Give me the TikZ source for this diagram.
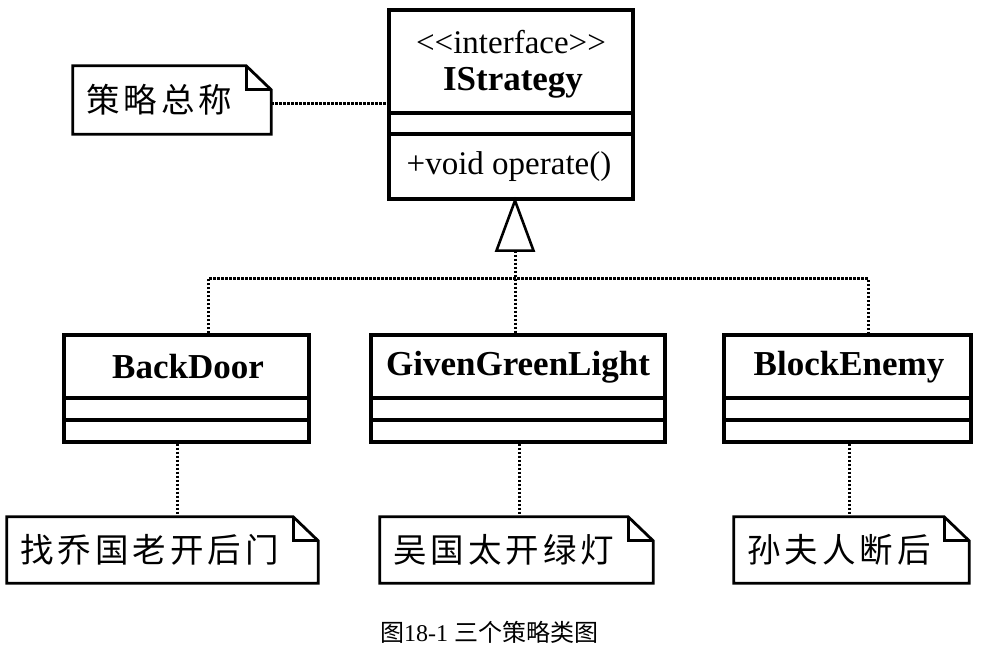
\documentclass[tikz,border=0pt]{standalone}
\usepackage{fontspec}
\setmainfont{Liberation Serif}
\newfontfamily\cjk[LetterSpace=12]{Noto Sans CJK SC}
\newfontfamily\cjkcap{Noto Sans CJK SC}
\usetikzlibrary{calc}
\tikzset{
  cbox/.style={draw, line width=3.2pt, inner sep=0pt, fill=white},
  cname/.style={font=\fontsize{35}{38}\selectfont\bfseries, inner sep=0pt},
  ctext/.style={font=\fontsize{33}{36}\selectfont, inner sep=0pt},
  divline/.style={line width=3.2pt},
  dotline/.style={line width=3pt, dash pattern=on 2.4pt off 1.6pt},
  note/.style={inner xsep=13pt, inner ysep=0pt, align=left, font=\cjk\fontsize{33.5}{36}\selectfont},
  noteline/.style={line width=2.8pt, line join=miter},
  gentri/.style={line width=2.6pt, fill=white},
  captext/.style={font=\fontsize{24}{28}\selectfont, inner sep=0pt}
}
\newcommand\dogear[1]{%
  \draw[noteline] (#1.north west) -- ([xshift=-25pt]#1.north east) -- ([yshift=-24pt]#1.north east) -- (#1.south east) -- (#1.south west) -- cycle;
  \draw[noteline] ([xshift=-25pt]#1.north east) |- ([yshift=-24pt]#1.north east);}
\begin{document}
\begin{tikzpicture}[x=1pt,y=-1pt]
\useasboundingbox (0,0) rectangle (981,659);
\fill[white] (0,0) rectangle (981,659);

% interface
\node[cbox, minimum width=244pt, minimum height=189pt] (istr) at (511,104.5) {};
\draw[divline] (istr.west |- 0,113) -- (istr.east |- 0,113);
\draw[divline] (istr.west |- 0,134) -- (istr.east |- 0,134);
\node[ctext] (stereo) at (511,42) {{<}{<}interface{>}{>}};
\node[cname] (iname) at (513,83) {IStrategy};
\node[ctext] (op) at (509,167) {+void operate()};

% classes
\node[cbox, minimum width=245pt, minimum height=107pt] (c1) at (186.5,388.5) {};
\node[cbox, minimum width=294pt, minimum height=107pt] (c2) at (518,388.5) {};
\node[cbox, minimum width=247pt, minimum height=107pt] (c3) at (847.5,388.5) {};
\foreach \c in {c1,c2,c3}{
  \draw[divline] (\c.west |- 0,398) -- (\c.east |- 0,398);
  \draw[divline] (\c.west |- 0,420) -- (\c.east |- 0,420);
}
\node[cname] (c1n) at (188,367) {BackDoor};
\node[cname] (c2n) at (518,367) {GivenGreenLight};
\node[cname] (c3n) at (849,367) {BlockEnemy};

% notes
\node[note, text width=172pt, minimum height=68pt] (n0) at (172,100) {策略总称};
\node[note, text width=285pt, minimum height=66pt] (n1) at (162.5,550) {找乔国老开后门};
\node[note, text width=247pt, minimum height=66pt] (n2) at (516.5,550) {吴国太开绿灯};
\node[note, text width=209pt, minimum height=66pt] (n3) at (851.5,550) {孙夫人断后};
\dogear{n0}\dogear{n1}\dogear{n2}\dogear{n3}

% note connectors
\draw[dotline] ([yshift=-3pt]n0.east) -- ([yshift=-3pt]n0.east -| istr.west);
\draw[dotline] ([xshift=-9.5pt]c1.south) -- ([xshift=-9.5pt]c1.south |- n1.north);
\draw[dotline] ([xshift=1.5pt]c2.south) -- ([xshift=1.5pt]c2.south |- n2.north);
\draw[dotline] ([xshift=1.5pt]c3.south) -- ([xshift=1.5pt]c3.south |- n3.north);

% realization
\coordinate (apex) at ([xshift=4pt]istr.south);
\coordinate (tbase) at ([yshift=-50pt]apex);
\coordinate (bus) at ([yshift=-78pt]apex);
\draw[dotline] (tbase) -- ([xshift=-3pt]c2.north);
\draw[dotline] ([xshift=21.5pt]c1.north) |- (bus) -| ([xshift=20.5pt]c3.north);
\draw[gentri] (apex) -- ([xshift=-18.5pt]tbase) -- ([xshift=18.5pt]tbase) -- cycle;

% caption
\node[captext] (cap) at (489,632) {\cjkcap 图\rmfamily 18-1 \cjkcap 三个策略类图};
\end{tikzpicture}
\end{document}
